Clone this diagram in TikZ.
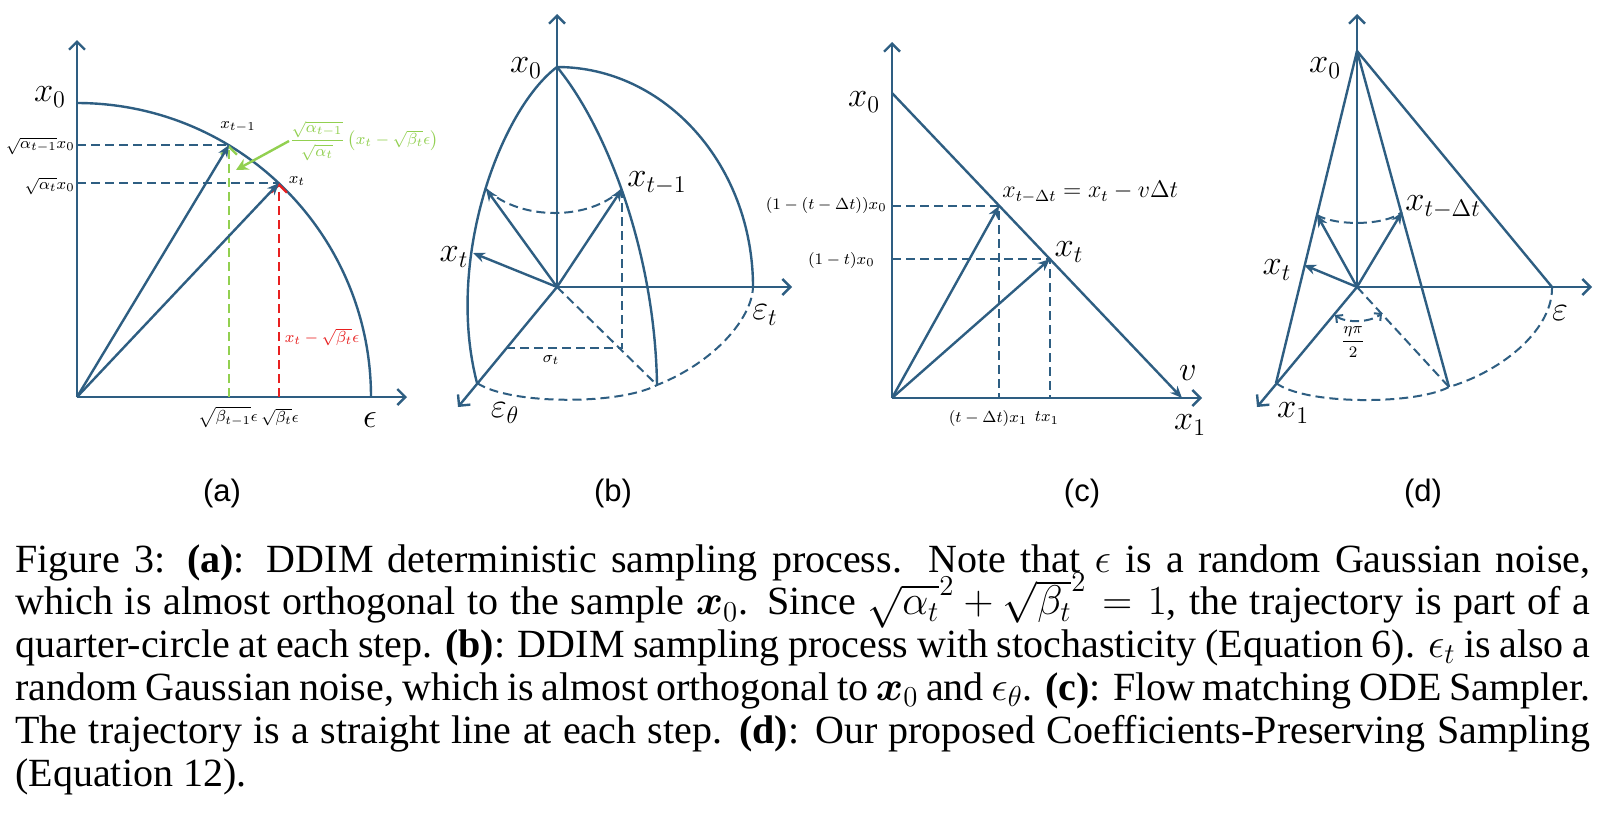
\documentclass[tikz,border=0pt]{standalone}
\usepackage{amsmath}
\usepackage{amssymb}
\usepackage{fontspec}
\usepackage{bm}
\setmainfont{Liberation Serif}
\newfontfamily\panelfont{Liberation Sans}
\usetikzlibrary{arrows.meta}
\usetikzlibrary{positioning}

\definecolor{axisblue}{RGB}{46,94,130}
\definecolor{stepgreen}{RGB}{146,208,80}
\definecolor{stepred}{RGB}{232,32,32}

\newcommand{\capline}[1]{\makebox[787.5pt][s]{#1}}

\begin{document}
\begin{tikzpicture}[x=0.5pt,y=-0.5pt]
            \tikzset{every node/.style={inner sep=0pt},
                    axisline/.style={draw=axisblue, line width=1.2pt, -{Straight Barb[length=4pt,width=8pt]}},
                    vec/.style={draw=axisblue, line width=1.2pt, -{Stealth[length=6pt,width=5pt]}},
                    arcline/.style={draw=axisblue, line width=1.2pt},
                    dashline/.style={draw=axisblue, line width=1pt, dash pattern=on 4.5pt off 2.5pt},
                    lblbig/.style={font=\fontsize{17}{20}\selectfont},
                    lblmid/.style={font=\fontsize{11.5}{14}\selectfont},
                    lblsmall/.style={font=\fontsize{8.3}{10}\selectfont},
                    panelcap/.style={font=\panelfont\fontsize{15.5}{18}\selectfont}}
            \path[use as bounding box, fill=white] (0,0) rectangle (1604,826);
            % (a)
            \coordinate (oa) at (77,397);
            \coordinate (ya) at (77,40);
            \coordinate (ea) at (407,397);
            \coordinate (ta) at (77,103);
            \coordinate (ka) at (229,145);
            \coordinate (kb) at (279,183);
            \coordinate (ha) at (77,145);
            \coordinate (hb) at (77,183);
            \coordinate (ba) at (229,397);
            \coordinate (bb) at (279,397);
            \coordinate (gtip) at (236,170);
            \draw[axisline] (oa) -- (ya);
            \draw[axisline] (oa) -- (ea);
            \draw[arcline] (ta) arc[start angle=-90, end angle=0, radius=294];
            \draw[dashline] (ha) -- (ka);
            \draw[dashline] (hb) -- (kb);
            \draw[dashline, draw=stepgreen, line width=1.2pt, -{Straight Barb[length=4pt,width=8pt]}] (ba) -- (ka);
            \draw[dashline, draw=stepred, line width=1.2pt, -{Straight Barb[length=4pt,width=8pt]}] (bb) -- (kb);
            \draw[vec] (oa) -- (ka);
            \draw[vec] (oa) -- (kb);
            \node[lblbig] (x0a) at (50,97) {$x_0$};
            \node[lblsmall, anchor=east] (sa1) at (75,146) {$\sqrt{\alpha_{t-1}}x_0$};
            \node[lblsmall, anchor=east] (sa2) at (75,186) {$\sqrt{\alpha_t}x_0$};
            \node[lblsmall] (lka) at (238,127) {$x_{t-1}$};
            \node[lblsmall] (lkb) at (297,181) {$x_t$};
            \node[lblsmall, text=stepgreen, anchor=west] (ga) at (289,141) {$\dfrac{\sqrt{\alpha_{t-1}}}{\sqrt{\alpha_t}}\left(x_t-\sqrt{\beta_t}\epsilon\right)$};
            \draw[draw=stepgreen, line width=1.2pt, -{Stealth[length=6pt,width=6pt]}] (ga.west) -- (gtip);
            \node[lblsmall, text=stepred] (lra) at (322,337) {$x_t-\sqrt{\beta_t}\epsilon$};
            \node[lblsmall] (lba) at (228,417) {$\sqrt{\beta_{t-1}}\epsilon$};
            \node[lblsmall] (lbb) at (280,417) {$\sqrt{\beta_t}\epsilon$};
            \node[lblbig] (lea) at (370,420) {$\epsilon$};
            \node[panelcap] (capa) at (222,493) {(a)};
            % (b)
            \coordinate (ob) at (557,287);
            \coordinate (yb) at (557,14);
            \coordinate (eb) at (792,287);
            \coordinate (gb) at (458,407);
            \coordinate (x0b) at (557,67);
            \coordinate (rb) at (753,287);
            \coordinate (lb) at (477,383);
            \coordinate (mb) at (657,385);
            \coordinate (pb) at (486,189);
            \coordinate (qb) at (622,189);
            \coordinate (tb) at (473,253);
            \coordinate (sb) at (622,348);
            \coordinate (ub) at (507,348);
            \draw[axisline] (ob) -- (yb);
            \draw[axisline] (ob) -- (eb);
            \draw[axisline] (ob) -- (gb);
            \draw[arcline] (x0b) arc[start angle=-90, end angle=0, x radius=196, y radius=220];
            \draw[arcline] (x0b) .. controls (500,110) and (445,260) .. (lb);
            \draw[arcline] (x0b) .. controls (605,125) and (655,250) .. (mb);
            \draw[dashline] (lb) .. controls (510,405) and (620,405) .. (mb) .. controls (715,362) and (752,318) .. (rb);
            \draw[dashline] (pb) .. controls (520,221) and (590,221) .. (qb);
            \draw[dashline] (qb) -- (sb) -- (ub);
            \draw[dashline] (ob) -- (mb);
            \draw[vec] (ob) -- (pb);
            \draw[vec] (ob) -- (qb);
            \draw[vec] (ob) -- (tb);
            \node[lblbig] (lx0b) at (526,68) {$x_0$};
            \node[lblbig] (lqb) at (657,183) {$x_{t-1}$};
            \node[lblbig] (ltb) at (454,257) {$x_t$};
            \node[lblbig] (lrb) at (765,315) {$\varepsilon_t$};
            \node[lblbig] (lgb) at (505,413) {$\varepsilon_\theta$};
            \node[lblsmall] (lsb) at (551,360) {$\sigma_t$};
            \node[panelcap] (capb) at (613,493) {(b)};
            % (c)
            \coordinate (oc) at (892,398);
            \coordinate (yc) at (892,42);
            \coordinate (ec) at (1202,398);
            \coordinate (x0c) at (892,93);
            \coordinate (vc) at (1182,398);
            \coordinate (kc) at (999,206);
            \coordinate (jc) at (1050,259);
            \coordinate (hkc) at (892,206);
            \coordinate (hjc) at (892,259);
            \coordinate (bkc) at (999,398);
            \coordinate (bjc) at (1050,398);
            \draw[axisline] (oc) -- (yc);
            \draw[axisline] (oc) -- (ec);
            \draw[vec] (x0c) -- (vc);
            \draw[dashline] (hkc) -- (kc) -- (bkc);
            \draw[dashline] (hjc) -- (jc) -- (bjc);
            \draw[vec] (oc) -- (kc);
            \draw[vec] (oc) -- (jc);
            \node[lblbig] (lx0c) at (864,102) {$x_0$};
            \node[lblsmall, anchor=east] (lhkc) at (887,205) {$(1-(t-\Delta t))x_0$};
            \node[lblsmall, anchor=east] (lhjc) at (875,260) {$(1-t)x_0$};
            \node[lblmid, anchor=west] (lkc) at (1002,192) {$x_{t-\Delta t}=x_t-v\Delta t$};
            \node[lblbig] (ljc) at (1069,252) {$x_t$};
            \node[lblbig] (lvc) at (1188,373) {$v$};
            \node[lblbig] (lec) at (1190,425) {$x_1$};
            \node[lblsmall] (lbkc) at (988,418) {$(t-\Delta t)x_1$};
            \node[lblsmall] (lbjc) at (1047,418) {$tx_1$};
            \node[panelcap] (capc) at (1082,493) {(c)};
            % (d)
            \coordinate (od) at (1357,287);
            \coordinate (yd) at (1357,14);
            \coordinate (ed) at (1592,287);
            \coordinate (gd) at (1257,407);
            \coordinate (x0d) at (1357,51);
            \coordinate (rd) at (1552,287);
            \coordinate (ld) at (1276,383);
            \coordinate (md) at (1449,387);
            \coordinate (pd) at (1317,215);
            \coordinate (qd) at (1402,212);
            \coordinate (td) at (1304,265);
            \coordinate (ad) at (1335,315);
            \coordinate (bd) at (1382,313);
            \draw[axisline] (od) -- (yd);
            \draw[axisline] (od) -- (ed);
            \draw[axisline] (od) -- (gd);
            \draw[arcline] (x0d) -- (rd);
            \draw[arcline] (x0d) -- (ld);
            \draw[arcline] (x0d) -- (md);
            \draw[dashline] (od) -- (md);
            \draw[dashline] (ld) .. controls (1305,405) and (1415,405) .. (md) .. controls (1505,370) and (1553,328) .. (rd);
            \draw[dashline] (pd) .. controls (1335,226) and (1385,226) .. (qd);
            \draw[dashline, {Straight Barb[length=2.5pt,width=5pt]}-{Straight Barb[length=2.5pt,width=5pt]}] (ad) .. controls (1345,323) and (1370,323) .. (bd);
            \draw[vec] (od) -- (pd);
            \draw[vec] (od) -- (qd);
            \draw[vec] (od) -- (td);
            \node[lblbig] (lx0d) at (1325,68) {$x_0$};
            \node[lblbig] (lqd) at (1443,207) {$x_{t-\Delta t}$};
            \node[lblbig] (ltd) at (1277,270) {$x_t$};
            \node[lblbig] (lrd) at (1560,313) {$\varepsilon$};
            \node[lblbig] (lgd) at (1293,413) {$x_1$};
            \node[lblsmall] (lad) at (1353,342) {$\dfrac{\eta\pi}{2}$};
            \node[panelcap] (capd) at (1423,493) {(d)};
            % caption, anchored at the baseline of its last line
            \node[anchor=base west, align=left, font=\fontsize{20}{21.4}\selectfont] (cap) at (15,786)
                {\capline{Figure 3: \textbf{(a)}: DDIM deterministic sampling process. Note that $\epsilon$ is a random Gaussian noise,}\\
                 \capline{which is almost orthogonal to the sample $\bm{x}_0$. Since $\smash{\sqrt{\alpha_t}^2+\sqrt{\beta_t}^2}=1$, the trajectory is part of a}\\
                 \capline{quarter-circle at each step. \textbf{(b)}: DDIM sampling process with stochasticity (Equation 6). $\epsilon_t$ is also a}\\
                 \capline{random Gaussian noise, which is almost orthogonal to $\bm{x}_0$ and $\epsilon_\theta$. \textbf{(c)}: Flow matching ODE Sampler.}\\
                 \capline{The trajectory is a straight line at each step. \textbf{(d)}: Our proposed Coefficients-Preserving Sampling}\\
                 (Equation 12).};
        \end{tikzpicture}
\end{document}
